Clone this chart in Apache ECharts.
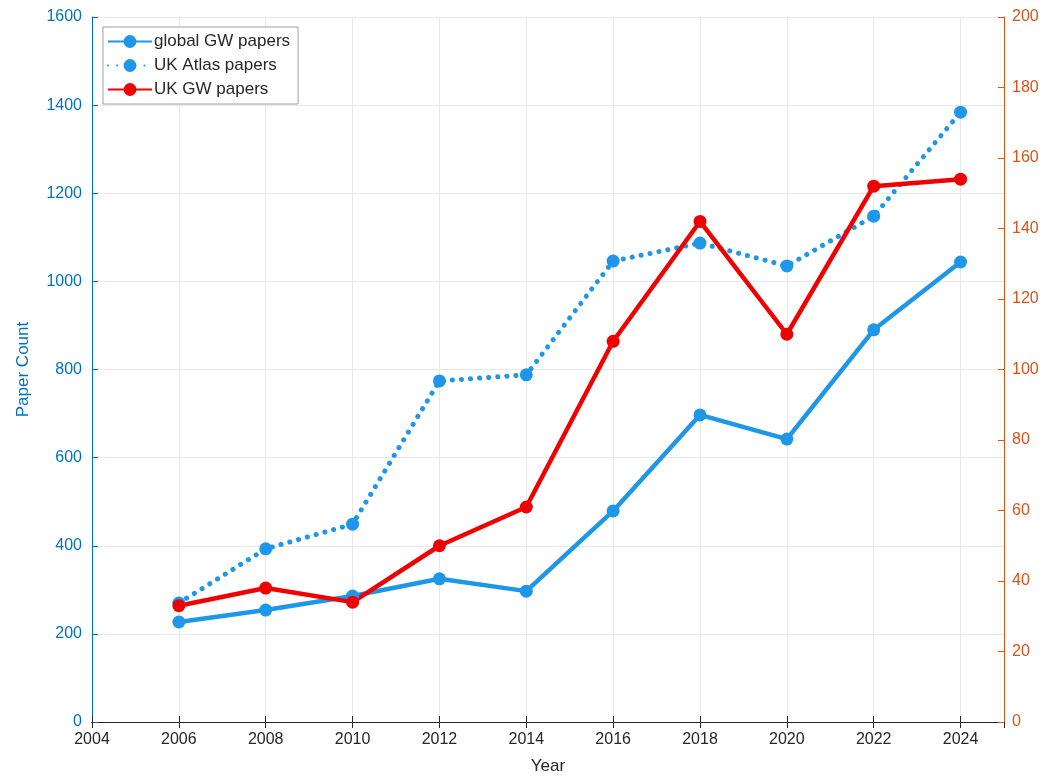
<!DOCTYPE html>
<html>
<head>
<meta charset="utf-8">
<script src="https://cdn.jsdelivr.net/npm/echarts@6/dist/echarts.min.js"></script>
<style>
html,body{margin:0;padding:0;background:#fff;}
#chart{width:1052px;height:780px;}
</style>
</head>
<body>
<div id="chart"></div>
<script>
var years = [2006, 2008, 2010, 2012, 2014, 2016, 2018, 2020, 2022, 2024];
var globalGW = [227, 254, 286, 325, 297, 479, 697, 642, 890, 1044];
var ukAtlas = [270, 393, 449, 774, 788, 1046, 1087, 1035, 1148, 1384];
var ukGW = [33, 38, 34, 50, 61, 108, 142, 110, 152, 154];

function pairs(vals){ return years.map(function(y,i){ return [y, vals[i]]; }); }

var BLUE = '#1f97e8', RED = '#f00000';
var LBLUE = '#0072BD', ORANGE = '#D95319', TXT = '#262626';
var FONT = 'Liberation Sans, Arial, Helvetica, sans-serif';
function plain(v){ return String(v); }

var chart = echarts.init(document.getElementById('chart'));
chart.setOption({
  animation: false,
  backgroundColor: '#fff',
  textStyle: {fontFamily: FONT},
  grid: {left: 92, right: 48, top: 17, bottom: 58, containLabel: false},
  legend: {
    orient: 'vertical', left: 103, top: 27,
    backgroundColor: '#fff', borderColor: '#a0a0a0', borderWidth: 1,
    padding: [6, 8, 6, 4], itemGap: 7, itemWidth: 44, itemHeight: 16,
    textStyle: {fontSize: 17, color: TXT, fontFamily: FONT, padding: [0,0,0,-3]},
    data: ['global GW papers', 'UK Atlas papers', 'UK GW papers']
  },
  xAxis: [{
    type: 'value', min: 2004, max: 2025, interval: 2,
    name: 'Year', nameLocation: 'middle', nameGap: 36,
    nameTextStyle: {fontSize: 17, color: TXT, fontFamily: FONT},
    axisLine: {show: true, lineStyle: {color: '#262626', width: 1}},
    axisTick: {show: true, inside: true, length: 6, lineStyle: {color: '#262626'}},
    axisLabel: {fontSize: 16, color: TXT, margin: 10, showMaxLabel: false, fontFamily: FONT,
      formatter: plain},
    splitLine: {show: true, lineStyle: {color: '#e8e8e8', width: 1}}
  }, {
    type: 'value', min: 2004, max: 2025, interval: 2, position: 'top',
    axisLine: {show: true, lineStyle: {color: '#262626', width: 1}},
    axisTick: {show: true, inside: true, length: 6, lineStyle: {color: '#262626'}},
    axisLabel: {show: false},
    splitLine: {show: false}
  }],
  yAxis: [{
    type: 'value', min: 0, max: 1600, interval: 200, position: 'left',
    name: 'Paper Count', nameLocation: 'middle', nameGap: 60, nameRotate: 90,
    nameTextStyle: {fontSize: 17, color: LBLUE, fontFamily: FONT},
    axisLine: {show: true, lineStyle: {color: LBLUE, width: 1}},
    axisTick: {show: true, inside: true, length: 6, lineStyle: {color: LBLUE}},
    axisLabel: {fontSize: 16, color: LBLUE, margin: 10, fontFamily: FONT, formatter: plain},
    splitLine: {show: true, lineStyle: {color: '#e8e8e8', width: 1}}
  }, {
    type: 'value', min: 0, max: 200, interval: 20, position: 'right',
    axisLine: {show: true, lineStyle: {color: ORANGE, width: 1}},
    axisTick: {show: true, inside: true, length: 6, lineStyle: {color: ORANGE}},
    axisLabel: {fontSize: 16, color: ORANGE, margin: 8, fontFamily: FONT, formatter: plain},
    splitLine: {show: false}
  }],
  series: [{
    name: 'global GW papers', type: 'line', data: pairs(globalGW),
    xAxisIndex: 0, yAxisIndex: 0,
    symbol: 'circle', symbolSize: 13,
    lineStyle: {color: BLUE, width: 4.5},
    itemStyle: {color: BLUE}
  }, {
    name: 'UK Atlas papers', type: 'line', data: pairs(ukAtlas),
    xAxisIndex: 0, yAxisIndex: 0,
    symbol: 'circle', symbolSize: 13,
    lineStyle: {color: BLUE, width: 5, type: [0.1, 9], cap: 'round'},
    itemStyle: {color: BLUE}
  }, {
    name: 'UK GW papers', type: 'line', data: pairs(ukGW),
    xAxisIndex: 0, yAxisIndex: 1,
    symbol: 'circle', symbolSize: 13,
    lineStyle: {color: RED, width: 4.5},
    itemStyle: {color: RED}
  }]
});
</script>
</body>
</html>
